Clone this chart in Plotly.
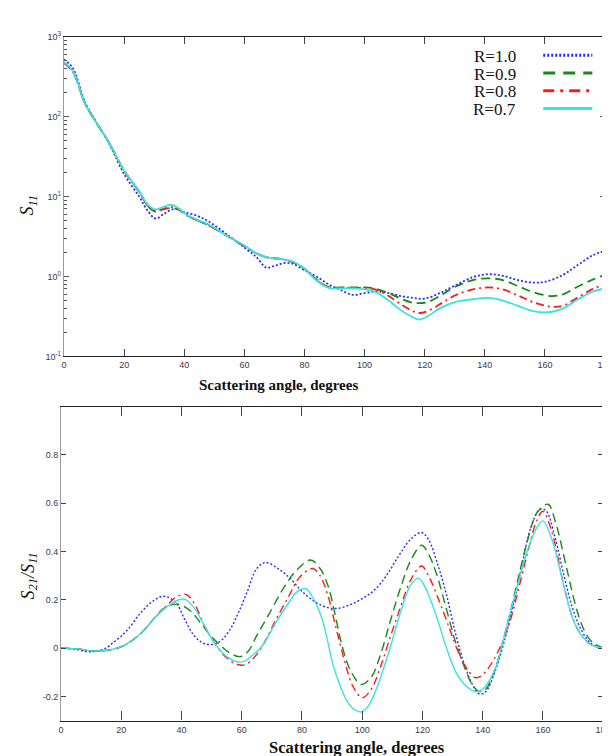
import plotly.graph_objects as go

# ---------------- data ----------------
series_names = ["R=1.0", "R=0.9", "R=0.8", "R=0.7"]

# Top panel: S11 (log scale)
s11_ang_blue = [0, 3, 7, 10, 15, 20, 25, 28, 30.5, 33, 35.5, 38, 40, 44, 48, 55, 60, 64, 67.3, 70, 73, 76, 80, 84, 88, 92, 96, 100, 104, 108, 112, 116, 120, 125, 130, 136, 141, 146, 151, 156, 160, 166, 171, 176, 180]
s11_blue = [520, 400, 150, 95, 46, 19, 10, 6.5, 5.3, 6.0, 6.8, 7.0, 6.4, 5.8, 4.9, 3.2, 2.3, 1.75, 1.29, 1.36, 1.47, 1.45, 1.2, 1.0, 0.8, 0.68, 0.59, 0.62, 0.65, 0.62, 0.57, 0.54, 0.53, 0.62, 0.77, 0.98, 1.07, 1.02, 0.9, 0.84, 0.86, 1.05, 1.4, 1.85, 2.1]

s11_ang = [0, 3, 7, 10, 15, 20, 25, 28, 30.5, 33, 35.5, 38, 40, 44, 48, 55, 60, 64, 68, 72, 76, 80, 84, 88, 92, 96, 100, 104, 108, 112, 116, 118, 121, 125, 130, 136, 141, 146, 151, 156, 162, 166, 171, 176, 180]
s11_green = [470, 360, 145, 93, 47, 21, 11.5, 7.5, 6.5, 6.9, 7.2, 6.9, 6.1, 5.1, 4.4, 3.1, 2.4, 1.95, 1.72, 1.66, 1.52, 1.25, 0.92, 0.74, 0.73, 0.73, 0.73, 0.70, 0.62, 0.53, 0.47, 0.465, 0.48, 0.57, 0.74, 0.9, 0.95, 0.9, 0.76, 0.64, 0.57, 0.6, 0.75, 0.92, 1.05]
s11_red = [470, 360, 145, 93, 47, 21, 11.5, 7.6, 6.6, 7.0, 7.4, 7.0, 6.1, 5.1, 4.4, 3.1, 2.4, 1.95, 1.72, 1.66, 1.52, 1.25, 0.91, 0.73, 0.72, 0.72, 0.72, 0.68, 0.57, 0.45, 0.37, 0.35, 0.37, 0.45, 0.58, 0.69, 0.73, 0.69, 0.58, 0.48, 0.42, 0.43, 0.55, 0.7, 0.81]
s11_cyan = [480, 370, 145, 93, 47, 21, 11.7, 7.8, 6.9, 7.4, 7.9, 7.2, 6.2, 5.2, 4.5, 3.1, 2.45, 1.95, 1.72, 1.66, 1.55, 1.26, 0.89, 0.72, 0.71, 0.71, 0.69, 0.63, 0.5, 0.38, 0.31, 0.29, 0.32, 0.4, 0.48, 0.52, 0.54, 0.5, 0.43, 0.37, 0.36, 0.4, 0.52, 0.65, 0.71]

# Bottom panel: S21/S11
r_ang_blue = [0, 5, 9, 14, 18, 22, 26, 30, 34, 38, 41, 44, 47, 50, 53, 56, 59, 62, 65, 68, 72, 76, 80, 84, 88, 92, 96, 100, 104, 108, 112, 116, 119.7, 122, 125, 128, 131, 134, 137, 139, 141, 144, 147, 150, 153, 156, 159, 161, 164, 167, 170, 173, 176, 180]
r_blue = [0, -0.005, -0.015, -0.005, 0.03, 0.075, 0.14, 0.19, 0.215, 0.19, 0.12, 0.055, 0.022, 0.015, 0.03, 0.075, 0.15, 0.24, 0.33, 0.355, 0.33, 0.29, 0.235, 0.195, 0.17, 0.165, 0.18, 0.205, 0.24, 0.3, 0.38, 0.45, 0.479, 0.45, 0.35, 0.22, 0.06, -0.07, -0.16, -0.19, -0.18, -0.1, 0.02, 0.17, 0.34, 0.5, 0.575, 0.57, 0.46, 0.3, 0.16, 0.07, 0.02, 0]

r_ang_green = [0, 5, 12, 17, 21, 25, 28, 31, 34.5, 38.8, 43, 46, 49.6, 53, 56, 59.4, 62, 65, 69, 73.6, 78, 82.8, 86, 88.7, 91, 93, 96, 99.7, 103, 106, 109.5, 113, 116, 119.7, 122, 124.6, 128, 131, 134, 136.5, 138.9, 141, 144, 148.6, 152, 155, 158, 161.7, 164, 168, 171, 173.5, 176, 180]
r_green = [0, -0.003, -0.012, -0.005, 0.012, 0.045, 0.08, 0.125, 0.168, 0.182, 0.154, 0.11, 0.053, 0.01, -0.02, -0.035, -0.015, 0.053, 0.14, 0.243, 0.32, 0.365, 0.33, 0.256, 0.14, 0.025, -0.09, -0.15, -0.12, -0.03, 0.12, 0.26, 0.36, 0.426, 0.39, 0.31, 0.16, 0.025, -0.08, -0.15, -0.18, -0.17, -0.09, 0.12, 0.3, 0.45, 0.56, 0.596, 0.53, 0.325, 0.17, 0.08, 0.03, 0]

r_ang_red = [0, 5, 12, 17, 21, 25, 28, 31, 35, 38, 41.4, 44, 47.6, 51, 55, 58, 61, 64, 67, 71, 75.6, 79, 83.5, 86, 88.7, 91, 94.2, 97, 100, 103, 106, 109.5, 113, 116, 119.7, 122, 125.8, 129, 131, 134, 137.6, 140, 144, 148.6, 152, 155, 158, 160, 163, 167, 170, 173, 176, 180]
r_red = [0, -0.003, -0.012, -0.005, 0.012, 0.045, 0.08, 0.125, 0.175, 0.21, 0.223, 0.19, 0.093, 0.02, -0.04, -0.065, -0.069, -0.04, 0.012, 0.11, 0.215, 0.29, 0.33, 0.3, 0.215, 0.1, -0.056, -0.16, -0.205, -0.17, -0.08, 0.053, 0.18, 0.28, 0.34, 0.3, 0.188, 0.08, 0.012, -0.07, -0.122, -0.11, -0.04, 0.093, 0.25, 0.4, 0.53, 0.567, 0.48, 0.256, 0.12, 0.05, 0.015, 0]

r_ang_cyan = [0, 5, 12, 17, 21, 25, 28, 31, 35, 38, 41, 44, 47.6, 51, 55, 58, 60.6, 64, 67, 71, 75.6, 78.5, 81.2, 84, 86.7, 88.5, 90.3, 92.5, 95, 97.5, 99.7, 102, 105, 109.5, 113, 116, 118.7, 121, 124.6, 128, 131, 134, 137.6, 140, 144, 148.6, 152, 155, 158, 160, 163, 167, 170, 173, 176, 180]
r_cyan = [0, -0.003, -0.012, -0.005, 0.012, 0.045, 0.08, 0.125, 0.17, 0.195, 0.203, 0.17, 0.093, 0.02, -0.035, -0.055, -0.056, -0.025, 0.012, 0.1, 0.188, 0.235, 0.247, 0.2, 0.12, 0.03, -0.069, -0.15, -0.22, -0.255, -0.264, -0.24, -0.16, 0.012, 0.16, 0.26, 0.29, 0.25, 0.134, 0.0, -0.097, -0.15, -0.18, -0.17, -0.09, 0.12, 0.28, 0.41, 0.5, 0.527, 0.45, 0.256, 0.12, 0.05, 0.015, 0]

x_ticks = [0, 20, 40, 60, 80, 100, 120, 140, 160, 180]
top_y_ticks = [0.1, 1, 10, 100, 1000]
top_y_ticktext = ["10<sup>-1</sup>", "10<sup>0</sup>", "10<sup>1</sup>", "10<sup>2</sup>", "10<sup>3</sup>"]
top_minor = [k * 10 ** e for e in range(-1, 3) for k in range(2, 10)]
bot_y_ticks = [-0.2, 0, 0.2, 0.4, 0.6, 0.8]
bot_y_ticktext = ["-0.2", "0", "0.2", "0.4", "0.6", "0.8"]

# ---------------- styles ----------------
colors = ["#2a2aff", "#178a17", "#ff1a1a", "#38e3e3"]
dashes = ["2px,2px", "9px,5px", "8px,4px,2px,4px", "solid"]
leg_dashes = ["2px,2px", "12px,8px", "11px,6px,3px,6px", "solid"]

top_x = [s11_ang_blue, s11_ang, s11_ang, s11_ang]
top_y = [s11_blue, s11_green, s11_red, s11_cyan]
bot_x = [r_ang_blue, r_ang_green, r_ang_red, r_ang_cyan]
bot_y = [r_blue, r_green, r_red, r_cyan]

fig = go.Figure()
for i in range(4):
    fig.add_trace(go.Scatter(x=top_x[i], y=top_y[i], mode="lines", name=series_names[i],
                             line=dict(color=colors[i], width=1.8, dash=dashes[i], shape="spline", smoothing=1.0),
                             xaxis="x", yaxis="y", showlegend=False))
for i in range(4):
    fig.add_trace(go.Scatter(x=bot_x[i], y=bot_y[i], mode="lines", name=series_names[i],
                             line=dict(color=colors[i], width=1.4, dash=dashes[i], shape="spline", smoothing=1.0),
                             xaxis="x2", yaxis="y2", showlegend=False))

tickfont = dict(family="Liberation Sans Narrow, Liberation Sans, Arial", size=9, color="#3a3a4a")
W, H = 610, 756

def px(v):
    return v / W

def py(v):
    return 1 - v / H

fig.update_layout(
    width=W, height=H, margin=dict(l=0, r=0, t=0, b=0),
    paper_bgcolor="white", plot_bgcolor="white", showlegend=False,
    xaxis=dict(domain=[px(54), px(605)], range=[0, 180], tickvals=x_ticks, ticks="inside", ticklen=7,
               mirror="ticks", showline=True, linecolor="#222", linewidth=1.3, showgrid=False, zeroline=False,
               tickfont=tickfont, tickcolor="#444", anchor="y", ticklabeloverflow="allow"),
    yaxis=dict(domain=[py(347), py(22)], type="log", range=[-1, 3], tickvals=top_y_ticks, ticktext=top_y_ticktext,
               ticks="inside", ticklen=5, mirror="ticks", showline=True, linecolor="#999", linewidth=1.2,
               showgrid=False, zeroline=False, tickfont=tickfont, tickcolor="#555", anchor="x",
               minor=dict(tickvals=top_minor, ticks="inside", ticklen=3, tickcolor="#555", showgrid=False)),
    xaxis2=dict(domain=[px(51), px(603)], range=[0, 180], tickvals=x_ticks, ticks="inside", ticklen=9,
                mirror="ticks", showline=True, linecolor="#222", linewidth=1.3, showgrid=False, zeroline=False,
                tickfont=tickfont, tickcolor="#444", anchor="y2", ticklabeloverflow="allow"),
    yaxis2=dict(domain=[py(717), py(398)], range=[-0.3, 1.0], tickvals=bot_y_ticks, ticktext=bot_y_ticktext,
                ticks="inside", ticklen=5, mirror="ticks", showline=True, linecolor="#999", linewidth=1.2,
                showgrid=False, zeroline=False, tickfont=tickfont, tickcolor="#444", anchor="x2"),
)

serif = "Liberation Serif, Times New Roman, serif"
ann = []
ann.append(dict(x=px(272), y=py(376), xref="paper", yref="paper", text="<b>Scattering angle, degrees</b>",
                showarrow=False, font=dict(family=serif, size=15, color="#111"), xanchor="center", yanchor="middle"))
ann.append(dict(x=px(352), y=py(744), xref="paper", yref="paper", text="<b>Scattering angle, degrees</b>",
                showarrow=False, font=dict(family=serif, size=16.5, color="#111"), xanchor="center", yanchor="middle"))
ann.append(dict(x=px(18), y=py(193), xref="paper", yref="paper", text="<i>S</i><sub><i>11</i></sub>",
                showarrow=False, textangle=-90, font=dict(family=serif, size=18, color="#111"),
                xanchor="center", yanchor="middle"))
ann.append(dict(x=px(19), y=py(570), xref="paper", yref="paper",
                text="<i>S</i><sub><i>21</i></sub><i>/S</i><sub><i>11</i></sub>",
                showarrow=False, textangle=-90, font=dict(family=serif, size=18, color="#111"),
                xanchor="center", yanchor="middle"))

# legend (text left, line sample right)
leg_y = [42, 60, 78, 96]
shapes = []
for i in range(4):
    ann.append(dict(x=px(516), y=py(leg_y[i]), xref="paper", yref="paper", text=series_names[i],
                    showarrow=False, font=dict(family=serif, size=17, color="#111"),
                    xanchor="right", yanchor="middle"))
    shapes.append(dict(type="line", xref="paper", yref="paper", x0=px(542), x1=px(592),
                       y0=py(leg_y[i] - 1), y1=py(leg_y[i] - 1),
                       line=dict(color=colors[i], width=3, dash=leg_dashes[i])))

fig.update_layout(annotations=ann, shapes=shapes)
fig.write_html("out.html")
